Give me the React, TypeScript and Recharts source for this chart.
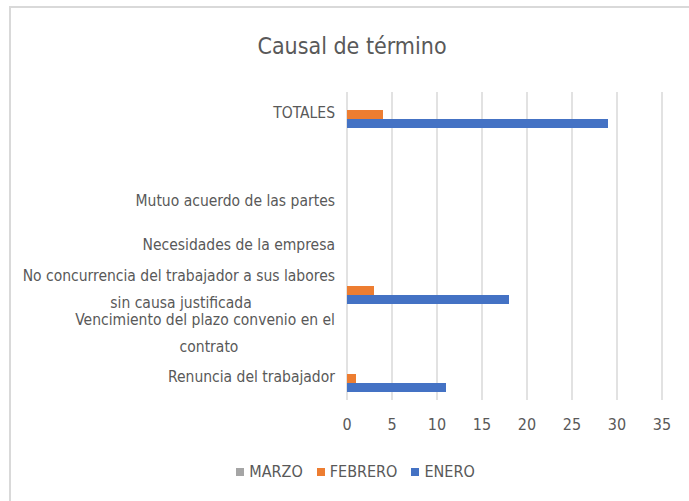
import { BarChart, Bar, XAxis, YAxis, CartesianGrid } from "recharts";

const categories = [
  "TOTALES",
  "",
  "Mutuo acuerdo de las partes",
  "Necesidades de la empresa",
  "No concurrencia del trabajador a sus labores\nsin causa justificada",
  "Vencimiento del plazo convenio en el\ncontrato",
  "Renuncia del trabajador",
];
const marzo = [0, 0, 0, 0, 0, 0, 0];
const febrero = [4, 0, 0, 0, 3, 0, 1];
const enero = [29, 0, 0, 0, 18, 0, 11];
const xTicks = [0, 5, 10, 15, 20, 25, 30, 35];

const series = [
  { key: "MARZO", color: "#A5A5A5" },
  { key: "FEBRERO", color: "#ED7D31" },
  { key: "ENERO", color: "#4472C4" },
];

const data = categories.map((name, i) => ({
  name,
  MARZO: marzo[i],
  FEBRERO: febrero[i],
  ENERO: enero[i],
}));

const FONT = "'Liberation Sans Narrow', 'DejaVu Sans Condensed', sans-serif";
const TEXT = "#595959";
const CHAR_W = 7.0;
const LINE_H = 27;

function CategoryTick(props: any) {
  const { x, y, payload } = props;
  const lines: string[] = String(payload.value).split("\n");
  if (!lines[0]) return null;
  const widest = Math.max(...lines.map((l) => l.length)) * CHAR_W;
  const top = y - ((lines.length - 1) * LINE_H) / 2 - 1;
  return (
    <g>
      {lines.map((line, i) => (
        <text
          key={i}
          x={i === 0 ? x : x - widest / 2}
          y={top + i * LINE_H}
          dy="0.35em"
          textAnchor={i === 0 ? "end" : "middle"}
          fill={TEXT}
          fontSize={15.5}
          fontFamily={FONT}
        >
          {line}
        </text>
      ))}
    </g>
  );
}

export default function App() {
  return (
    <div
      style={{
        position: "absolute",
        left: 0,
        top: 0,
        width: 689,
        height: 501,
        overflow: "hidden",
        background: "#fff",
      }}
    >
      <div
        style={{
          position: "absolute",
          left: 9,
          top: 6,
          width: 800,
          height: 600,
          borderTop: "2px solid #D9D9D9",
          borderLeft: "2px solid #D9D9D9",
        }}
      />
      <div
        style={{
          position: "absolute",
          left: 0,
          top: 33,
          width: 704,
          textAlign: "center",
          fontFamily: FONT,
          fontSize: 23,
          color: TEXT,
        }}
      >
        Causal de término
      </div>
      <div style={{ position: "absolute", left: 0, top: 0 }}>
        <BarChart
          width={689}
          height={501}
          data={data}
          layout="vertical"
          margin={{ top: 92, right: 27, bottom: 71, left: 7 }}
          barSize={9}
          barGap={0}
        >
          <CartesianGrid horizontal={false} stroke="#D9D9D9" strokeWidth={1.5} />
          <XAxis
            type="number"
            domain={[0, 35]}
            ticks={xTicks}
            axisLine={false}
            tickLine={false}
            tickMargin={13}
            tick={{ fill: TEXT, fontSize: 16, fontFamily: FONT }}
          />
          <YAxis
            type="category"
            dataKey="name"
            width={340}
            interval={0}
            axisLine={false}
            tickLine={false}
            tickMargin={6}
            tick={<CategoryTick />}
          />
          {series.map((s) => (
            <Bar key={s.key} dataKey={s.key} fill={s.color} isAnimationActive={false} />
          ))}
        </BarChart>
      </div>
      <div
        style={{
          position: "absolute",
          left: 0,
          top: 462,
          width: 689,
          display: "flex",
          justifyContent: "center",
          paddingLeft: 36,
          boxSizing: "border-box",
          fontFamily: FONT,
          fontSize: 16,
          color: TEXT,
        }}
      >
        {series.map((s) => (
          <span key={s.key} style={{ display: "flex", alignItems: "center", marginRight: 14 }}>
            <span style={{ width: 8, height: 8, background: s.color, marginRight: 5 }} />
            {s.key}
          </span>
        ))}
      </div>
    </div>
  );
}
